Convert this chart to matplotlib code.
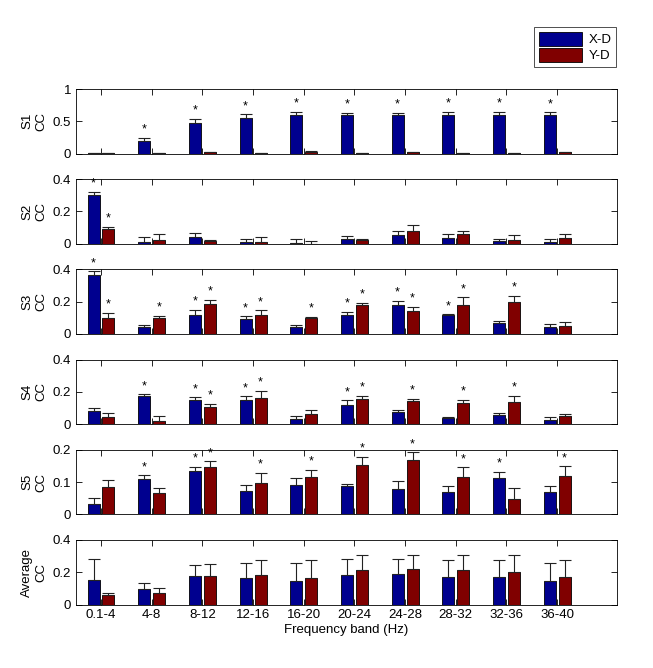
import numpy as np
import matplotlib
matplotlib.use("Agg")
import matplotlib.pyplot as plt
from matplotlib.patches import Patch

plt.rcParams['font.family'] = ['Liberation Sans', 'DejaVu Sans']
plt.rcParams['font.size'] = 9.5

bands = ['0.1-4', '4-8', '8-12', '12-16', '16-20', '20-24', '24-28', '28-32', '32-36', '36-40']
panel_names = ['S1\nCC', 'S2\nCC', 'S3\nCC', 'S4\nCC', 'S5\nCC', 'Average\nCC']

# mean CC per band, X-D and Y-D
s1_xd = [0.01, 0.19, 0.47, 0.55, 0.60, 0.59, 0.59, 0.60, 0.60, 0.60]
s1_yd = [0.005, 0.01, 0.02, 0.01, 0.03, 0.01, 0.02, 0.01, 0.005, 0.02]
s2_xd = [0.30, 0.012, 0.04, 0.012, 0.002, 0.03, 0.056, 0.038, 0.016, 0.008]
s2_yd = [0.089, 0.024, 0.014, 0.012, 0.001, 0.022, 0.078, 0.06, 0.026, 0.034]
s3_xd = [0.365, 0.04, 0.12, 0.094, 0.04, 0.12, 0.177, 0.115, 0.07, 0.044]
s3_yd = [0.096, 0.098, 0.185, 0.12, 0.096, 0.177, 0.14, 0.177, 0.198, 0.052]
s4_xd = [0.081, 0.176, 0.147, 0.15, 0.032, 0.119, 0.073, 0.036, 0.055, 0.024]
s4_yd = [0.044, 0.02, 0.103, 0.162, 0.063, 0.154, 0.145, 0.13, 0.135, 0.048]
s5_xd = [0.031, 0.108, 0.134, 0.072, 0.091, 0.089, 0.078, 0.068, 0.113, 0.07]
s5_yd = [0.084, 0.065, 0.147, 0.097, 0.115, 0.153, 0.168, 0.116, 0.048, 0.119]
avg_xd = [0.154, 0.098, 0.177, 0.167, 0.146, 0.183, 0.19, 0.169, 0.169, 0.146]
avg_yd = [0.056, 0.071, 0.177, 0.181, 0.167, 0.2125, 0.219, 0.215, 0.2, 0.169]

# standard errors
s1_xd_err = [0.005, 0.05, 0.07, 0.06, 0.05, 0.04, 0.04, 0.05, 0.05, 0.04]
s1_yd_err = [0.004, 0.005, 0.005, 0.005, 0.005, 0.005, 0.005, 0.005, 0.004, 0.005]
s2_xd_err = [0.022, 0.028, 0.026, 0.018, 0.028, 0.016, 0.02, 0.024, 0.014, 0.02]
s2_yd_err = [0.016, 0.034, 0.008, 0.028, 0.016, 0.008, 0.037, 0.016, 0.028, 0.026]
s3_xd_err = [0.023, 0.016, 0.03, 0.016, 0.016, 0.017, 0.029, 0.008, 0.013, 0.018]
s3_yd_err = [0.035, 0.014, 0.027, 0.028, 0.01, 0.017, 0.029, 0.05, 0.04, 0.02]
s4_xd_err = [0.018, 0.008, 0.019, 0.022, 0.018, 0.028, 0.012, 0.008, 0.012, 0.02]
s4_yd_err = [0.025, 0.028, 0.022, 0.046, 0.022, 0.022, 0.013, 0.022, 0.041, 0.013]
s5_xd_err = [0.018, 0.013, 0.013, 0.02, 0.022, 0.006, 0.026, 0.021, 0.019, 0.019]
s5_yd_err = [0.021, 0.018, 0.018, 0.032, 0.023, 0.025, 0.025, 0.03, 0.035, 0.03]
avg_xd_err = [0.13, 0.033, 0.071, 0.093, 0.112, 0.1, 0.095, 0.108, 0.108, 0.112]
avg_yd_err = [0.015, 0.031, 0.077, 0.092, 0.108, 0.092, 0.085, 0.095, 0.104, 0.11]

# significance stars
s1_xd_sig = [0, 1, 1, 1, 1, 1, 1, 1, 1, 1]
s1_yd_sig = [0, 0, 0, 0, 0, 0, 0, 0, 0, 0]
s2_xd_sig = [1, 0, 0, 0, 0, 0, 0, 0, 0, 0]
s2_yd_sig = [1, 0, 0, 0, 0, 0, 0, 0, 0, 0]
s3_xd_sig = [1, 0, 1, 1, 0, 1, 1, 1, 0, 0]
s3_yd_sig = [1, 1, 1, 1, 1, 1, 1, 1, 1, 0]
s4_xd_sig = [0, 1, 1, 1, 0, 1, 0, 0, 0, 0]
s4_yd_sig = [0, 0, 1, 1, 0, 1, 1, 1, 1, 0]
s5_xd_sig = [0, 1, 1, 0, 0, 0, 0, 0, 1, 0]
s5_yd_sig = [0, 0, 1, 1, 1, 1, 1, 1, 0, 1]
avg_xd_sig = [0] * 10
avg_yd_sig = [0] * 10

y_limits = [1, 0.4, 0.4, 0.4, 0.2, 0.4]
y_ticklabels = [['0', '0.5', '1'], ['0', '0.2', '0.4'], ['0', '0.2', '0.4'],
                ['0', '0.2', '0.4'], ['0', '0.1', '0.2'], ['0', '0.2', '0.4']]

panels = [
    (s1_xd, s1_yd, s1_xd_err, s1_yd_err, s1_xd_sig, s1_yd_sig),
    (s2_xd, s2_yd, s2_xd_err, s2_yd_err, s2_xd_sig, s2_yd_sig),
    (s3_xd, s3_yd, s3_xd_err, s3_yd_err, s3_xd_sig, s3_yd_sig),
    (s4_xd, s4_yd, s4_xd_err, s4_yd_err, s4_xd_sig, s4_yd_sig),
    (s5_xd, s5_yd, s5_xd_err, s5_yd_err, s5_xd_sig, s5_yd_sig),
    (avg_xd, avg_yd, avg_xd_err, avg_yd_err, avg_xd_sig, avg_yd_sig),
]

blue = '#00008f'
red = '#800000'
W, H = 653, 668

fig = plt.figure(figsize=(W / 100, H / 100), dpi=100)
x = np.arange(1, len(bands) + 1)
offset = 0.147
width = 0.237

for i, (xd, yd, xe, ye, xs, ys) in enumerate(panels):
    top = 89 + i * 90.2
    ax = fig.add_axes([76 / W, 1 - (top + 64.5) / H, 541 / W, 64.5 / H])
    for pos, vals, errs, sig, col in [(x - offset, xd, xe, xs, blue), (x + offset, yd, ye, ys, red)]:
        vals = np.array(vals)
        errs = np.array(errs)
        ax.bar(pos, vals, width, color=col, edgecolor='black', linewidth=0.6, zorder=2)
        ax.errorbar(pos, vals, yerr=[np.zeros_like(errs), errs], fmt='none', ecolor='#222222',
                    elinewidth=0.8, capsize=4, capthick=0.8, zorder=3)
        # star a few points above the error cap
        for p, v, e, s in zip(pos, vals, errs, sig):
            if s:
                ax.annotate('*', (p, v + e), xytext=(0, 1.5), textcoords='offset points',
                            ha='center', va='bottom', fontsize=9, annotation_clip=False)
    ax.set_xlim(0.507, 11.18)
    ax.set_ylim(0, y_limits[i])
    ax.set_yticks([0, y_limits[i] / 2, y_limits[i]])
    ax.set_yticklabels(y_ticklabels[i])
    ax.set_xticks(x)
    if i == len(panels) - 1:
        ax.set_xticklabels(bands)
        ax.set_xlabel('Frequency band (Hz)', labelpad=2)
    else:
        ax.set_xticklabels([])
    ax.set_ylabel(panel_names[i], labelpad=4)
    ax.tick_params(direction='in', top=True, right=True, length=4, width=0.6)
    for sp in ax.spines.values():
        sp.set_linewidth(0.6)

handles = [Patch(facecolor=blue, edgecolor='black', linewidth=0.6),
           Patch(facecolor=red, edgecolor='black', linewidth=0.6)]
leg = fig.legend(handles, ['X-D', 'Y-D'], loc='upper left',
                 bbox_to_anchor=(534 / W, 1 - 27 / H), frameon=True, fancybox=False,
                 handlelength=3.3, handleheight=1.25, handletextpad=0.5,
                 labelspacing=0.15, borderpad=0.35, borderaxespad=0)
leg.get_frame().set_edgecolor('black')
leg.get_frame().set_linewidth(0.6)

fig.savefig('out.png', dpi=100)
